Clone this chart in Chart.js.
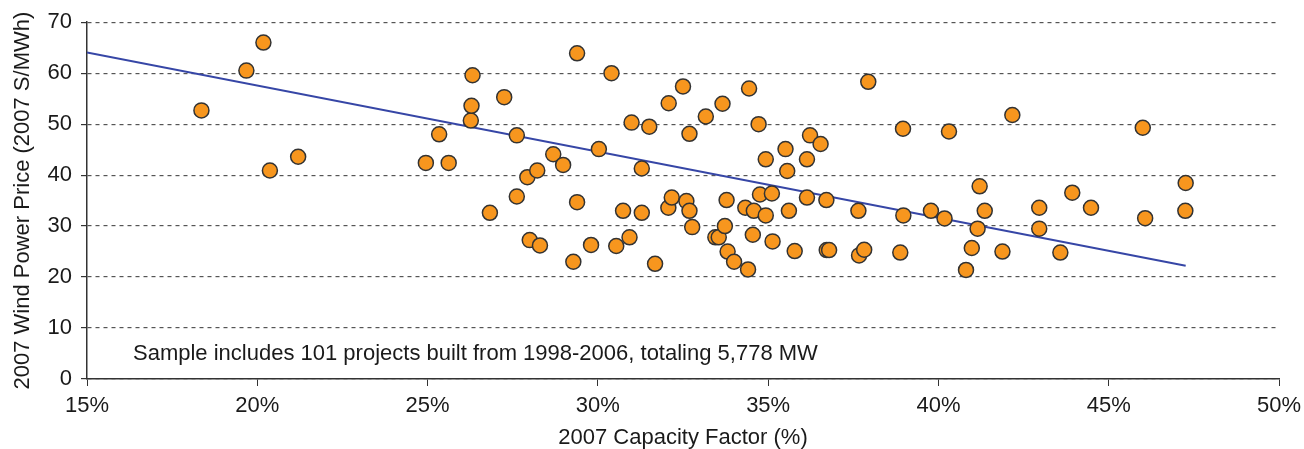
<!DOCTYPE html>
<html>
<head>
<meta charset="utf-8">
<script src="https://cdn.jsdelivr.net/npm/chart.js@4.4.1/dist/chart.umd.min.js"></script>
<style>
    html, body { margin: 0; padding: 0; background: #fff; }
    #wrap { width: 1304px; height: 449px; }
</style>
</head>
<body>
<div id="wrap"><canvas id="scatterChart" width="1304" height="449"></canvas></div>
<script>
// Capacity factor (%) of each project
const capacityFactor = [
    18.36, 19.68, 20.18, 20.37, 21.2, 24.95, 25.34, 25.62, 26.27, 26.29,
    26.32, 26.83, 27.25, 27.62, 27.62, 27.93, 28.0, 28.22, 28.3, 28.69,
    28.98, 29.28, 29.39, 29.39, 29.8, 30.03, 30.4, 30.54, 30.74, 30.93,
    30.99, 31.29, 31.29, 31.51, 31.68, 32.07, 32.08, 32.17, 32.5, 32.6,
    32.69, 32.69, 32.77, 33.17, 33.45, 33.55, 33.66, 33.73, 33.78, 33.81,
    34.0, 34.33, 34.41, 34.44, 34.55, 34.58, 34.72, 34.76, 34.93, 34.93,
    35.11, 35.13, 35.51, 35.56, 35.61, 35.78, 36.14, 36.14, 36.23, 36.54,
    36.71, 36.72, 36.79, 37.65, 37.67, 37.82, 37.94, 38.88, 38.96, 38.97,
    39.78, 40.18, 40.31, 40.81, 40.98, 41.15, 41.21, 41.36, 41.88, 42.17,
    42.96, 42.96, 43.58, 43.93, 44.48, 46.0, 46.07, 47.25, 47.26
];

// 2007 wind power price ($/MWh), same order
const powerPrice = [
    52.7, 60.5, 66.0, 40.9, 43.6, 42.4, 48.0, 42.4, 50.7, 53.6,
    59.6, 32.6, 55.3, 47.8, 35.8, 39.6, 27.25, 40.9, 26.2, 44.1,
    42.0, 23.0, 63.9, 34.7, 26.3, 45.1, 60.0, 26.1, 33.0, 27.8,
    50.3, 41.3, 32.6, 49.5, 22.6, 33.6, 54.1, 35.6, 57.4, 34.9,
    48.1, 33.0, 29.8, 51.5, 27.8, 27.8, 54.0, 30.0, 35.1, 25.0,
    23.0, 33.6, 21.5, 57.0, 28.3, 33.0, 50.0, 36.2, 43.1, 32.1,
    36.4, 27.0, 45.1, 40.8, 33.0, 25.1, 43.1, 35.6, 47.8, 46.1,
    35.1, 25.3, 25.3, 33.0, 24.25, 25.35, 58.3, 24.8, 49.1, 32.1,
    33.0, 31.5, 48.55, 21.4, 25.7, 29.5, 37.8, 33.0, 25.0, 51.8,
    33.6, 29.5, 24.8, 36.55, 33.6, 49.3, 31.55, 33.0, 38.45
];

// trend line end points
const trendX = [15, 47.26];
const trendY = [64.05, 22.2];

const xTicks = [15, 20, 25, 30, 35, 40, 45, 50];
const yTicks = [0, 10, 20, 30, 40, 50, 60, 70];

const noteText = 'Sample includes 101 projects built from 1998-2006, totaling 5,778 MW';

const FONT = "'Liberation Sans', Arial, sans-serif";
const TEXT_COLOR = '#1a1a1a';

// draws the sample note inside the plot
const notePlugin = {
    id: 'note',
    afterDatasetsDraw(chart) {
        const { ctx, chartArea } = chart;
        ctx.save();
        ctx.font = `22px ${FONT}`;
        ctx.fillStyle = TEXT_COLOR;
        ctx.textBaseline = 'middle';
        ctx.textAlign = 'left';
        ctx.fillText(noteText, chartArea.left + 46, chartArea.bottom - 25);
        ctx.restore();
    }
};

const points = capacityFactor.map((x, i) => ({ x: x, y: powerPrice[i] }));
const trend = trendX.map((x, i) => ({ x: x, y: trendY[i] }));

new Chart(document.getElementById('scatterChart').getContext('2d'), {
    type: 'scatter',
    data: {
        datasets: [{
            label: 'Projects',
            data: points,
            backgroundColor: '#F7961E',
            borderColor: '#333333',
            borderWidth: 1.5,
            pointRadius: 7.5,
            pointHoverRadius: 7.5
        }, {
            type: 'line',
            label: 'Trend',
            data: trend,
            borderColor: '#3646A6',
            borderWidth: 2,
            pointRadius: 0,
            fill: false,
            tension: 0
        }]
    },
    options: {
        responsive: false,
        animation: false,
        events: [],
        layout: { padding: { left: 0, right: 0, top: 20, bottom: 0 } },
        plugins: {
            legend: { display: false },
            tooltip: { enabled: false }
        },
        scales: {
            x: {
                type: 'linear',
                min: 15,
                max: 50,
                afterBuildTicks: (scale) => { scale.ticks = xTicks.map(v => ({ value: v })); },
                ticks: {
                    callback: (v) => v + '%',
                    color: TEXT_COLOR,
                    font: { family: FONT, size: 22 },
                    padding: 7,
                    maxRotation: 0
                },
                grid: {
                    drawOnChartArea: false,
                    drawTicks: true,
                    tickLength: 7,
                    tickColor: '#333'
                },
                border: { color: '#333', width: 1.5 },
                title: {
                    display: true,
                    text: '2007 Capacity Factor (%)',
                    color: TEXT_COLOR,
                    font: { family: FONT, size: 22, lineHeight: 1 },
                    padding: { top: 0, bottom: 0 }
                },
                afterFit: (scale) => {
                    scale.height = 70;
                    scale.paddingRight = 25;
                }
            },
            y: {
                type: 'linear',
                min: 0,
                max: 70,
                afterBuildTicks: (scale) => { scale.ticks = yTicks.map(v => ({ value: v })); },
                ticks: {
                    color: TEXT_COLOR,
                    font: { family: FONT, size: 22 },
                    padding: 9
                },
                grid: {
                    color: '#555',
                    lineWidth: 1.2,
                    drawTicks: true,
                    tickLength: 6,
                    tickColor: '#333'
                },
                border: { color: '#333', width: 1.5, dash: [4, 4] },
                title: {
                    display: true,
                    text: '2007 Wind Power Price (2007 S/MWh)',
                    color: TEXT_COLOR,
                    font: { family: FONT, size: 22, lineHeight: 1 },
                    padding: { top: 12, bottom: 0 }
                },
                afterFit: (scale) => { scale.width = 87; }
            }
        }
    },
    plugins: [notePlugin]
});
</script>
</body>
</html>
